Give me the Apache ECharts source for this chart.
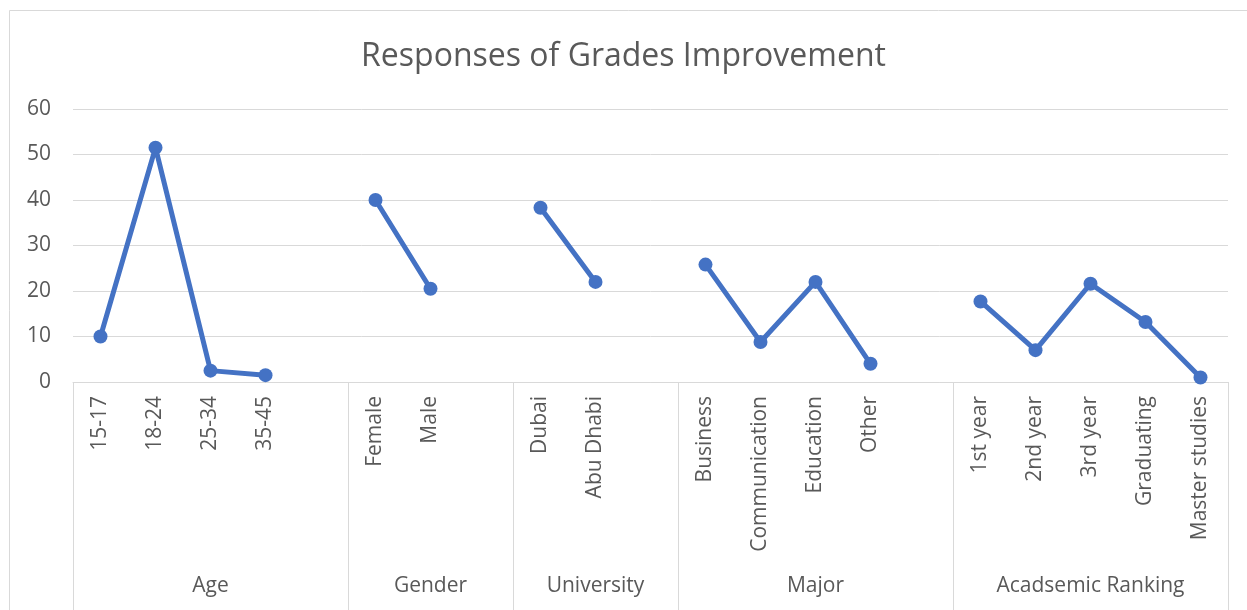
<!DOCTYPE html>
<html>
<head>
<meta charset="utf-8">
<script src="https://cdn.jsdelivr.net/npm/echarts@6/dist/echarts.min.js"></script>
<style>
html,body{margin:0;padding:0;background:#fff;}
#chart{width:1247px;height:610px;}
</style>
</head>
<body>
<div id="chart"></div>
<script>
const titleText = 'Responses of Grades Improvement';
const groupNames = ['Age', 'Gender', 'University', 'Major', 'Acadsemic Ranking'];
const ageCats = ['15-17', '18-24', '25-34', '35-45'];
const ageVals = [10, 51.5, 2.5, 1.5];
const genderCats = ['Female', 'Male'];
const genderVals = [40, 20.5];
const uniCats = ['Dubai', 'Abu Dhabi'];
const uniVals = [38.3, 22];
const majorCats = ['Business', 'Communication', 'Education', 'Other'];
const majorVals = [25.8, 8.8, 22, 4];
const rankCats = ['1st year', '2nd year', '3rd year', 'Graduating', 'Master studies'];
const rankVals = [17.7, 7, 21.6, 13.2, 1];
const yTicks = [0, 10, 20, 30, 40, 50, 60];

const groupCats = [ageCats, genderCats, uniCats, majorCats, rankCats];
const groupVals = [ageVals, genderVals, uniVals, majorVals, rankVals];

// Build multi-level category axis: blank slot after each group except the last
const categories = [];
const values = [];
const groupLabels = [];
const boundaryIdx = new Set();
groupCats.forEach((cats, g) => {
  const start = categories.length;
  boundaryIdx.add(start);
  cats.forEach((c, i) => { categories.push(c); values.push(groupVals[g][i]); });
  if (g < groupCats.length - 1) { categories.push(''); values.push(null); }
  const end = categories.length;
  const center = start + Math.floor((end - start - 1) / 2);
  for (let k = start; k < end; k++) groupLabels.push(k === center ? groupNames[g] : '');
});

const FONT = 'Open Sans';
const chart = echarts.init(document.getElementById('chart'));
chart.setOption({
  animation: false,
  backgroundColor: '#fff',
  textStyle: { fontFamily: FONT },
  title: {
    text: titleText,
    left: 'center',
    top: 36,
    textStyle: { fontFamily: FONT, fontSize: 32, fontWeight: 'normal', color: '#595959' }
  },
  graphic: [{
    type: 'rect', silent: true,
    shape: { x: 9.5, y: 10.5, width: 1260, height: 620 },
    style: { fill: 'none', stroke: '#d9d9d9', lineWidth: 1 }
  }],
  grid: { left: 73, right: 19, top: 109, bottom: 228, containLabel: false },
  xAxis: [{
    type: 'category',
    data: categories,
    boundaryGap: true,
    axisLine: { show: true, lineStyle: { color: '#d9d9d9', width: 1 } },
    axisTick: { show: false },
    axisLabel: {
      interval: 0, rotate: 90, margin: 14,
      fontFamily: FONT, fontSize: 21, color: '#595959'
    },
    splitLine: { show: false }
  }, {
    type: 'category',
    data: groupLabels,
    position: 'bottom',
    boundaryGap: true,
    axisLine: { show: false },
    axisTick: {
      show: true, length: 240,
      interval: function (index) { return boundaryIdx.has(index); },
      lineStyle: { color: '#d9d9d9', width: 1 }
    },
    axisLabel: {
      interval: 0, margin: 194,
      fontFamily: FONT, fontSize: 21, color: '#595959'
    },
    splitLine: { show: false }
  }],
  yAxis: {
    type: 'value',
    min: yTicks[0], max: yTicks[yTicks.length - 1], interval: 10,
    axisLine: { show: false },
    axisTick: { show: false },
    axisLabel: { margin: 22, fontFamily: FONT, fontSize: 21, color: '#595959' },
    splitLine: { lineStyle: { color: '#d9d9d9', width: 1 } }
  },
  series: [{
    type: 'line',
    xAxisIndex: 0,
    data: values,
    connectNulls: false,
    symbol: 'circle',
    symbolSize: 14,
    lineStyle: { color: '#4472C4', width: 5 },
    itemStyle: { color: '#4472C4' }
  }]
});
</script>
</body>
</html>
